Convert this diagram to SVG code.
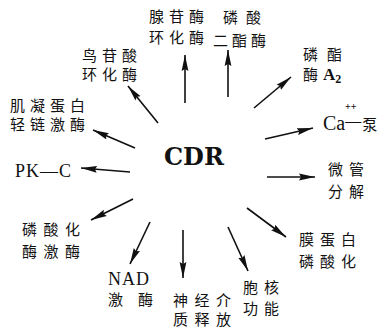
<svg xmlns="http://www.w3.org/2000/svg" width="382" height="329" viewBox="0 0 382 329">
<style>
.cn{font-family:"Noto Sans CJK SC","Noto Sans CJK TC",sans-serif;font-size:15px;fill:#111;}
.lat{font-family:"Liberation Serif","Times New Roman",serif;fill:#111;}
.arr{stroke:#111;stroke-width:1.6;fill:none;marker-end:url(#ah);}
</style>
<defs>
<marker id="ah" viewBox="0 0 16 8" refX="16" refY="4" markerWidth="16" markerHeight="8" markerUnits="userSpaceOnUse" orient="auto">
<path d="M0,0.6 L16,4 L0,7.4 L2,4 z" fill="#111"/>
</marker>
</defs>
<rect width="382" height="329" fill="#fff"/>

<g id="connectors">
<line class="arr" x1="185" y1="103" x2="185" y2="55"/>
<line class="arr" x1="228" y1="97" x2="228" y2="50"/>
<line class="arr" x1="158" y1="123" x2="128" y2="86"/>
<line class="arr" x1="135" y1="148" x2="93" y2="130"/>
<line class="arr" x1="130" y1="172" x2="81" y2="168"/>
<line class="arr" x1="133" y1="199" x2="91" y2="220"/>
<line class="arr" x1="150" y1="222" x2="130" y2="264"/>
<line class="arr" x1="183" y1="230" x2="183" y2="278"/>
<line class="arr" x1="228" y1="227" x2="248" y2="271"/>
<line class="arr" x1="247" y1="208" x2="286" y2="237"/>
<line class="arr" x1="267" y1="177" x2="315" y2="177"/>
<line class="arr" x1="265" y1="139" x2="313" y2="128"/>
<line class="arr" x1="254" y1="108" x2="291" y2="77"/>
</g>

<g id="cdr">
<text x="164" y="165" font-size="24" font-weight="bold" font-family="DejaVu Serif, serif" fill="#111">CDR</text>
</g>

<g id="adenylate">
<text class="cn" letter-spacing="5"><tspan x="149" y="22">腺苷酶</tspan><tspan x="149" y="43">环化酶</tspan></text>
</g>

<g id="pde">
<text class="cn"><tspan x="223" y="23" letter-spacing="8">磷酸</tspan><tspan x="213" y="46" letter-spacing="4">二酯酶</tspan></text>
</g>

<g id="guanylate">
<text class="cn" letter-spacing="5"><tspan x="82" y="61">鸟苷酸</tspan><tspan x="82" y="80">环化酶</tspan></text>
</g>

<g id="mlck">
<text class="cn" letter-spacing="5"><tspan x="10" y="111">肌凝蛋白</tspan><tspan x="10" y="130">轻链激酶</tspan></text>
</g>

<g id="pkc">
<text class="lat" x="15" y="177" font-size="18" letter-spacing="1">PK—C</text>
</g>

<g id="phk">
<text class="cn" letter-spacing="6.5"><tspan x="22" y="235">磷酸化</tspan><tspan x="22" y="257">酶激酶</tspan></text>
</g>

<g id="nadk">
<text class="cn"><tspan class="lat" x="108" y="285" font-size="18" letter-spacing="1">NAD</tspan><tspan x="108" y="305" letter-spacing="15">激酶</tspan></text>
</g>

<g id="neuro">
<text class="cn" letter-spacing="6.5"><tspan x="173" y="306">神经介</tspan><tspan x="173" y="325">质释放</tspan></text>
</g>

<g id="nucleus">
<text class="cn" letter-spacing="6"><tspan x="243" y="293">胞核</tspan><tspan x="243" y="314">功能</tspan></text>
</g>

<g id="memprot">
<text class="cn" letter-spacing="6"><tspan x="299" y="245">膜蛋白</tspan><tspan x="299" y="267">磷酸化</tspan></text>
</g>

<g id="microtubule">
<text class="cn" letter-spacing="6"><tspan x="328" y="175">微管</tspan><tspan x="328" y="197">分解</tspan></text>
</g>

<g id="capump">
<text class="lat" x="323" y="130" font-size="20">Ca<tspan font-size="16" dy="-4">—</tspan><tspan class="cn" font-size="17" dx="1" dy="4">泵</tspan></text>
<text class="lat" x="345" y="109.5" font-size="10" font-weight="bold">++</text>
</g>

<g id="pla2">
<text class="cn"><tspan x="303" y="60" letter-spacing="9">磷酯</tspan><tspan x="303" y="80">酶</tspan><tspan class="lat" x="323" y="80" font-size="17" font-weight="bold">A</tspan><tspan class="lat" font-size="12" dy="3" font-weight="bold">2</tspan></text>
</g>
</svg>
